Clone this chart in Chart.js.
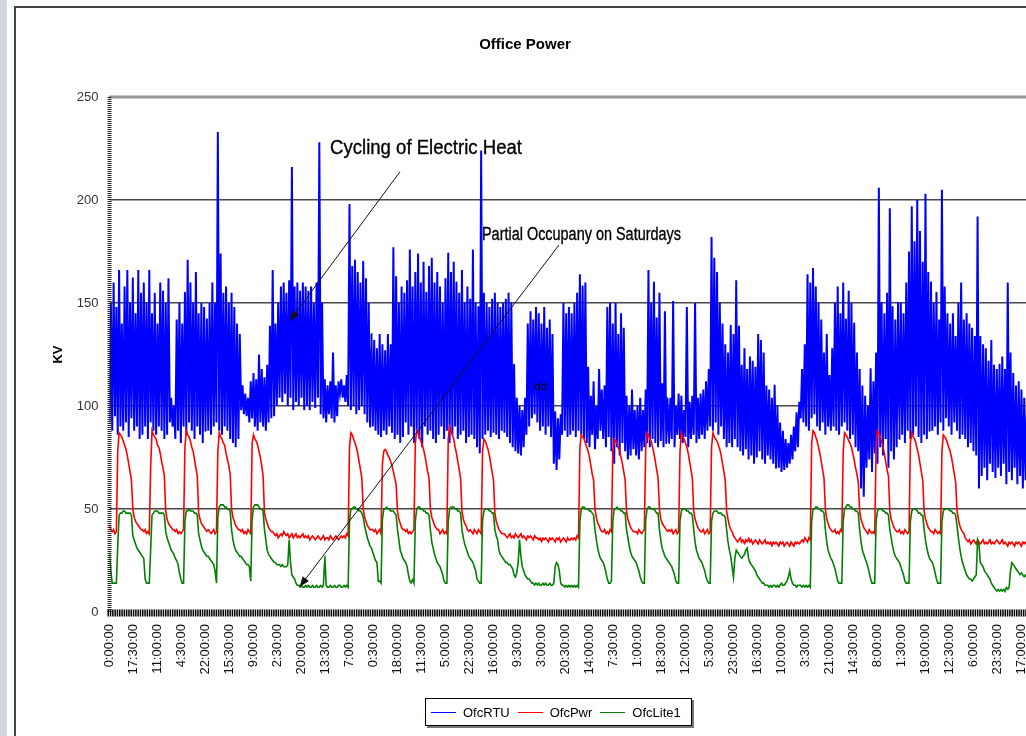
<!DOCTYPE html>
<html>
<head>
<meta charset="utf-8">
<title>Office Power</title>
<script src="https://cdn.jsdelivr.net/npm/chart.js@4.4.1/dist/chart.umd.min.js"></script>
<style>
  html, body { margin: 0; padding: 0; background: #fff; overflow: hidden; }
  body { width: 1026px; height: 736px; position: relative; font-family: "Liberation Sans", Arial, sans-serif; }
  #strip { position: absolute; left: 0; top: 0; width: 7px; height: 736px; background: #d3d8e0; }
  #frame { position: absolute; left: 14px; top: 6px; width: 1100px; height: 800px;
           border-left: 2px solid #444; border-top: 2px solid #444; }
  #wrap { position: absolute; left: 0; top: 0; width: 1050px; height: 736px; }
  #legend { position: absolute; left: 425px; top: 698px; width: 267px; height: 28px; box-sizing: border-box;
            border: 1px solid #000; box-shadow: 2px 2px 0 #777; background: #fff;
            display: flex; align-items: center; padding-left: 5px; font-size: 13px; color: #000; }
  #legend .item { display: flex; align-items: center; margin-right: 8px; }
  #legend .line { display: inline-block; width: 25px; height: 0; border-top: 1.5px solid; margin-right: 7px; }
</style>
</head>
<body>
<div id="strip"></div>
<div id="frame"></div>
<div id="wrap"><canvas id="chart"></canvas></div>
<div id="legend"></div>
<script>
// --- series, one row per day (hourly for OfcPwr / OfcLite1, 2-hour low/high for OfcRTU) ---
const seriesNames = ['OfcRTU', 'OfcPwr', 'OfcLite1'];
const seriesColors = ['#0000ff', '#ff0000', '#008000'];

const timeTicks = ['0:00:00','17:30:00','11:00:00','4:30:00','22:00:00','15:30:00','9:00:00','2:30:00',
  '20:00:00','13:30:00','7:00:00','0:30:00','18:00:00','11:30:00','5:00:00','22:30:00','16:00:00',
  '9:30:00','3:00:00','20:30:00','14:00:00','7:30:00','1:00:00','18:30:00','12:00:00','5:30:00',
  '23:00:00','16:30:00','10:00:00','3:30:00','21:00:00','14:30:00','8:00:00','1:30:00','19:00:00',
  '12:30:00','6:00:00','23:30:00','17:00:00'];
const yTicks = [0, 50, 100, 150, 200, 250];

const ofcPwr = [
  [42,40,39,40,38,39, 78,87,86,85,83,81,79,76,72,68,64, 50,46,44,43,42,41,40],
  [40,39,40,38,39,38, 70,88,86,85,84,81,80,77,73,70,66, 49,45,43,42,41,40,40],
  [39,40,38,39,38,39,40, 80,88,86,85,83,80,78,74,70,66, 48,45,43,42,41,40,39],
  [40,39,38,39,40,38,39, 78,87,85,84,82,81,77,74,71,67, 50,46,44,42,41,40,40],
  [39,40,38,39,38,40,39,38, 82,86,84,83,81,78,75,71,66, 48,45,43,41,40,39,39],
  [38,37,38,36,37, 38,37,39,38,37, 38,36,37,38,36, 37,38,36,37,36, 37,38,36,37],
  [36,37,35,36,37, 36,35,36,37,36, 35,36,37,35,36, 36,35,37,36,35, 36,37,36,35],
  [36,37,36,37,36,38,37, 80,87,86,84,82,80,77,73,69,65, 50,46,44,42,41,40,40],
  [40,39,40,38,39,40,38, 72,78,79,78,76,75,73,71,68,65,62, 49,45,43,41,40,40],
  [39,40,38,39,38,39,40, 82,88,87,85,83,81,79,76,72,68,65, 50,46,44,42,41,40],
  [40,38,39,40,38,39,38, 84,90,88,86,84,80,77,73,69,65, 49,45,43,42,40,39,40],
  [39,38,40,39,38,40,39,38, 78,84,83,81,79,76,72,68,64, 48,44,42,40,39,38,38],
  [38,37,36,37,38, 36,37,36,38,37, 36,37,38,36,37, 36,35,37,36,37, 36,35,37,36],
  [36,35,36,34,36, 35,36,35,34,36, 35,36,35,34,36, 35,36,34,35,36, 35,34,36,35],
  [35,36,35,36,35,37,36, 80,86,85,84,82,80,78,75,71,67,64, 50,46,43,42,40,39],
  [39,40,38,39,38,40,39, 78,84,83,82,80,78,75,72,68,64, 49,45,43,41,40,39,39],
  [39,38,40,39,38,39,40, 80,87,86,84,83,80,77,73,69,65, 50,45,43,42,41,40,39],
  [40,39,40,38,39,40,38,39, 78,87,85,84,82,80,77,73,69,65, 49,45,43,41,40,39],
  [39,40,38,39,40,38,39, 80,87,85,84,83,81,79,76,72,68,64, 49,45,42,40,39,37],
  [36,35,34,35,36, 34,35,33,35,34, 36,34,35,33,34, 35,34,33,35,34, 33,34,35,33],
  [34,33,34,32,34, 33,34,33,32,34, 33,34,32,33,34, 33,32,34,33,32, 34,33,34,33],
  [34,35,34,36,35,34,36,35, 82,88,87,85,83,80,77,73,69,65, 50,45,43,41,40,39],
  [39,40,38,39,38,40,39, 78,87,86,85,83,82,80,77,74,70,67,63, 49,45,43,41,40],
  [39,38,40,39,38,39,38, 80,88,87,85,83,80,77,73,69,66, 49,45,43,41,40,39,39],
  [40,38,39,38,40,39,38,39, 82,87,85,84,82,79,76,72,68,64, 49,45,43,41,40,39],
  [39,38,40,39,38,39,38, 78,86,85,84,82,80,78,75,71,67,63, 49,45,42,40,39,38],
  [36,35,34,35,33, 34,35,34,33,35, 34,33,34,35,33, 34,33,34,35,33, 34,33,34,35],
  [34,33,34,35,33, 34,33,32,34,33, 34,33,32,34,33, 34,33,32,34,33, 34,33,32,33]
];

const ofcLite1 = [
  [29,20,14,14,14,14, 32,47,48,48,49,49,48,48,48,48,47, 37,35,33,31,30,29,28],
  [27,26,16,14,14,14, 30,47,48,49,49,49,48,48,48,48,47, 39,36,34,32,30,29,28],
  [26,25,23,19,16,14,14, 44,49,49,50,49,49,49,48,48,47, 38,35,32,30,29,28,27],
  [27,26,25,24,23,20,14, 46,51,52,52,52,51,51,50,50,49, 40,35,32,30,29,28,27],
  [27,26,25,24,23,23,22,15, 45,51,52,52,52,51,50,50,49, 40,35,30,28,27,26,25],
  [24,24,23,23,23, 22,23,22,22,22, 23,35,24,18,17, 16,14,13,13,12, 13,12,12,13],
  [12,13,12,12,13, 12,12,13,12,12, 13,12,13,27,13, 12,12,13,12,12, 13,12,12,13],
  [13,12,12,13,12,13,12, 44,50,50,51,51,50,50,49,49,48, 46,42,39,36,34,32,31],
  [29,27,25,24,15,15,14, 45,50,50,51,50,50,49,49,49,48,47, 40,35,30,28,26,25],
  [24,22,18,15,14,16,14, 44,50,51,51,50,50,49,49,48,48,47, 40,34,31,28,26,24],
  [23,22,20,18,15,14,14, 44,50,51,51,51,50,50,49,49,48, 40,36,33,31,29,27,26],
  [25,24,22,20,16,15,14,14, 44,49,50,50,50,49,49,48,48, 40,37,35,30,28,27,26],
  [25,24,24,23,23, 22,21,18,17,19, 24,35,27,22,20, 18,17,16,16,15, 14,14,13,14],
  [13,14,13,13,14, 13,14,13,13,14, 13,13,14,22,24, 23,20,14,13,13, 12,13,12,13],
  [12,13,12,13,12,13,12, 44,50,51,51,50,50,50,49,49,48,47, 40,35,31,28,26,25],
  [24,22,19,16,14,14,15, 44,50,50,51,50,50,49,49,48,48, 40,36,32,29,27,26,25],
  [24,22,20,17,15,14,14, 45,50,51,51,50,50,50,49,48,48, 40,35,31,29,27,26,25],
  [24,23,22,20,18,15,14,14, 44,49,50,50,50,49,49,48,48,47, 40,34,30,28,26,25],
  [24,22,20,17,15,14,14, 44,48,49,49,49,48,48,48,47,47,46, 40,34,30,27,22,17],
  [26,30,29,28,27, 26,27,28,30,31, 26,24,23,22,21, 20,18,17,16,15, 14,14,13,13],
  [13,12,13,12,13, 13,12,13,12,13, 14,13,13,14,15, 17,20,16,14,13, 13,12,13,13],
  [13,12,13,12,13,12,13,12, 44,50,50,51,51,50,50,49,49,48, 40,34,30,28,26,25],
  [23,21,18,15,14,14,14, 44,50,51,52,52,51,51,50,50,49,49,48, 40,34,30,28,26],
  [24,22,19,16,14,14,14, 44,49,50,50,50,49,49,48,48,47, 40,36,32,29,27,26,25],
  [24,22,20,18,15,14,14,14, 44,49,50,50,50,49,48,48,47,47, 40,35,31,28,26,25],
  [24,22,19,16,14,14,14, 44,49,50,50,50,50,49,49,48,48,47, 42,36,31,27,24,22],
  [20,18,17,16,16, 15,16,17,18,35, 33,24,23,22,20, 19,18,17,16,14, 13,12,11,10],
  [11,10,11,10,11, 10,12,11,12,20, 24,23,22,21,20, 19,18,19,18,17, 18,17,18,17]
];

// OfcRTU cycles fast: low and high of each 2-hour slot
const rtuHigh = [
  [150,160,148,166,140,158,166,150,162,145,166,155],
  [160,150,166,145,155,140,160,156,150,162,104,100],
  [142,150,140,155,171,160,150,165,145,150,148,142],
  [150,160,150,233,174,155,158,150,155,148,140,135],
  [110,106,104,112,116,113,125,118,114,120,139,166],
  [140,150,158,160,155,161,216,158,160,156,160,158],
  [156,158,150,160,228,150,113,110,112,126,110,112],
  [113,110,115,198,168,171,165,160,170,162,150,135],
  [132,128,135,130,127,135,130,177,163,150,158,155],
  [161,176,158,165,174,160,170,155,168,172,160,165],
  [158,150,162,174,165,170,160,155,166,150,158,152],
  [176,150,148,224,155,150,148,152,155,150,148,150],
  [152,155,150,120,104,100,98,104,140,146,142,148],
  [145,140,148,138,142,135,97,94,96,150,145,148],
  [145,150,155,164,158,160,119,105,112,100,118,108],
  [110,148,150,140,150,135,145,138,105,100,108,98],
  [100,104,98,108,166,150,160,143,155,111,146,104],
  [104,151,100,106,105,98,148,102,105,150,104,106],
  [108,112,118,182,172,165,150,140,130,126,139,135],
  [161,139,120,128,118,124,122,119,135,132,126,110],
  [108,104,110,100,92,88,84,82,86,90,97,102],
  [118,130,164,160,167,158,150,142,126,135,115,128],
  [150,158,145,160,142,156,150,140,126,118,110,105],
  [100,118,112,126,206,150,145,155,196,148,142,150],
  [150,145,160,175,197,180,200,185,170,203,165,160],
  [150,155,142,205,158,145,140,145,134,150,160,142],
  [145,140,138,134,192,134,130,128,122,132,120,118],
  [120,124,118,160,126,116,110,112,108,104,100,102]
];
const rtuLow = [
  [92,88,95,86,90,88,92,85,94,88,90,84],
  [86,90,84,92,88,86,90,88,84,86,92,90],
  [84,88,82,90,86,92,88,84,90,86,82,88],
  [88,86,90,92,88,86,90,88,84,82,80,84],
  [98,96,95,92,94,90,88,92,90,88,92,94],
  [95,100,104,102,106,100,104,98,102,100,104,98],
  [100,98,102,99,104,96,94,92,96,94,92,95],
  [106,104,102,100,98,100,96,98,100,96,92,90],
  [90,88,86,85,88,86,90,87,84,86,82,85],
  [92,86,90,82,88,84,80,90,86,88,84,82],
  [86,90,84,88,82,86,90,84,86,88,82,85],
  [86,84,80,77,84,86,88,85,87,86,84,88],
  [87,85,82,80,78,77,76,80,86,90,94,96],
  [92,88,90,86,90,85,72,69,74,86,88,85],
  [86,88,85,88,86,84,82,80,86,79,84,88],
  [84,80,85,78,72,80,76,82,78,74,76,79],
  [76,74,78,80,82,80,84,82,80,83,80,82],
  [82,84,80,86,84,82,85,80,84,86,82,84],
  [86,84,88,90,88,92,86,90,84,80,82,80],
  [84,80,78,76,79,74,76,72,75,78,74,72],
  [76,74,72,70,70,68,69,70,72,74,78,80],
  [94,92,90,88,94,96,90,88,92,86,90,88],
  [90,88,86,90,92,88,84,86,80,78,60,56],
  [70,74,68,77,72,80,76,84,70,78,74,80],
  [84,86,82,88,84,86,90,85,82,86,84,88],
  [88,90,86,92,88,94,90,86,92,88,84,86],
  [84,80,82,78,76,60,66,70,64,72,68,65],
  [70,66,72,62,68,64,70,62,66,60,64,62]
];

// text notes on the plot, placed in data units (hours, kV)
const notes = [
  { text: 'Cycling of Electric Heat', x: 160.8, y: 224.8, width: 192, size: 20 },
  { text: 'Partial Occupany on Saturdays', x: 271.6, y: 183.0, width: 199, size: 18 },
  { text: 'dd', x: 309.5, y: 109, width: 13, size: 11 }
];
const arrows = [
  { from: [211.8, 213.7], to: [131.5, 141.4] },
  { from: [327.8, 178.2], to: [138.7, 12.3] }
];

const HOURS_PER_DAY = 24;
const TICK_STEP = 17.5;

function hourly(rows) {
  return rows.flatMap((row, d) => row.map((v, h) => ({ x: d * HOURS_PER_DAY + h, y: v })));
}
function cycling(lowRows, highRows) {
  const pts = [];
  lowRows.forEach((row, d) => {
    row.forEach((lo, s) => {
      const t = d * HOURS_PER_DAY + s * 2;
      pts.push({ x: t, y: lo });
      pts.push({ x: t + 1, y: highRows[d][s] });
    });
  });
  return pts;
}

const decor = {
  id: 'decor',
  afterDatasetsDraw(chart) {
    const { ctx, chartArea: a, scales: { x, y } } = chart;
    ctx.save();
    // hatched plot edges like the original sheet
    ctx.setLineDash([1, 1]);
    ctx.strokeStyle = '#333'; ctx.lineWidth = 3;
    ctx.beginPath(); ctx.moveTo(a.left, a.top); ctx.lineTo(a.right, a.top); ctx.stroke();
    ctx.strokeStyle = '#222'; ctx.lineWidth = 4;
    ctx.beginPath(); ctx.moveTo(a.left, a.top); ctx.lineTo(a.left, a.bottom); ctx.stroke();
    ctx.setLineDash([1.5, 0.8]);
    ctx.strokeStyle = '#000'; ctx.lineWidth = 7;
    ctx.beginPath(); ctx.moveTo(a.left - 2, a.bottom + 1); ctx.lineTo(a.right, a.bottom + 1); ctx.stroke();
    ctx.setLineDash([]);

    // arrows
    ctx.strokeStyle = '#111'; ctx.fillStyle = '#111'; ctx.lineWidth = 1;
    arrows.forEach(ar => {
      const x0 = x.getPixelForValue(ar.from[0]), y0 = y.getPixelForValue(ar.from[1]);
      const x1 = x.getPixelForValue(ar.to[0]), y1 = y.getPixelForValue(ar.to[1]);
      const ang = Math.atan2(y1 - y0, x1 - x0);
      ctx.beginPath(); ctx.moveTo(x0, y0); ctx.lineTo(x1, y1); ctx.stroke();
      ctx.beginPath();
      ctx.moveTo(x1, y1);
      ctx.lineTo(x1 - 10 * Math.cos(ang) + 4 * Math.sin(ang), y1 - 10 * Math.sin(ang) - 4 * Math.cos(ang));
      ctx.lineTo(x1 - 10 * Math.cos(ang) - 4 * Math.sin(ang), y1 - 10 * Math.sin(ang) + 4 * Math.cos(ang));
      ctx.closePath(); ctx.fill();
    });

    // notes, squeezed to the narrow lettering of the original
    ctx.fillStyle = '#000';
    ctx.strokeStyle = '#000';
    ctx.lineWidth = 0.35;
    ctx.textBaseline = 'middle';
    notes.forEach(n => {
      ctx.font = n.size + 'px "Liberation Sans", Arial, sans-serif';
      const w = ctx.measureText(n.text).width;
      ctx.save();
      ctx.translate(x.getPixelForValue(n.x), y.getPixelForValue(n.y));
      ctx.scale(n.width / w, 1);
      ctx.fillText(n.text, 0, 0);
      if (n.size > 12) ctx.strokeText(n.text, 0, 0);
      ctx.restore();
    });
    ctx.restore();
  }
};

Chart.defaults.font.family = '"Liberation Sans", Arial, sans-serif';

new Chart(document.getElementById('chart'), {
  type: 'line',
  data: {
    datasets: [
      { label: seriesNames[0], data: cycling(rtuLow, rtuHigh), borderColor: seriesColors[0], borderWidth: 2, order: 2 },
      { label: seriesNames[1], data: hourly(ofcPwr), borderColor: seriesColors[1], borderWidth: 1.6, order: 1 },
      { label: seriesNames[2], data: hourly(ofcLite1), borderColor: seriesColors[2], borderWidth: 1.6, order: 0 }
    ]
  },
  options: {
    responsive: true,
    maintainAspectRatio: false,
    animation: false,
    parsing: false,
    normalized: true,
    // tiny tension keeps Chart.js off its pixel-merging fast path so the dense cycling stays solid
    elements: { point: { radius: 0 }, line: { tension: 0.001 } },
    layout: { padding: { left: 0, right: 0, top: 0, bottom: 0 } },
    plugins: {
      legend: { display: false },
      tooltip: { enabled: false },
      title: {
        display: true, text: 'Office Power', color: '#000',
        font: { size: 15, weight: 'bold' }, padding: { top: 36, bottom: 43 }
      }
    },
    scales: {
      x: {
        type: 'linear', min: 0, max: 685.8,
        grid: { display: false, drawTicks: false },
        border: { display: false },
        ticks: {
          stepSize: TICK_STEP, includeBounds: false, autoSkip: false,
          maxRotation: 90, minRotation: 90, padding: 12,
          color: '#111', font: { size: 13 },
          callback: (v, i) => timeTicks[i] ?? ''
        },
        afterFit: s => { s.height = 124; s.paddingLeft = 0; s.paddingRight = 0; }
      },
      y: {
        min: yTicks[0], max: yTicks[yTicks.length - 1],
        border: { display: false },
        grid: {
          drawTicks: false, lineWidth: 1.6,
          color: c => (c.tick.value === 0 || c.tick.value === 250) ? 'rgba(0,0,0,0)' : '#474747'
        },
        ticks: { stepSize: 50, padding: 11, color: '#333', font: { size: 13 } },
        title: { display: true, text: 'KV', color: '#000', font: { size: 13, weight: 'bold' }, padding: { top: 51, bottom: 4 } },
        afterFit: s => { s.width = 109.5; }
      }
    }
  },
  plugins: [decor]
});

// legend box under the axis
const legend = document.getElementById('legend');
seriesNames.forEach((name, i) => {
  const item = document.createElement('span');
  item.className = 'item';
  item.innerHTML = '<span class="line" style="border-color:' + seriesColors[i] + '"></span>' + name;
  legend.appendChild(item);
});
</script>
</body>
</html>
